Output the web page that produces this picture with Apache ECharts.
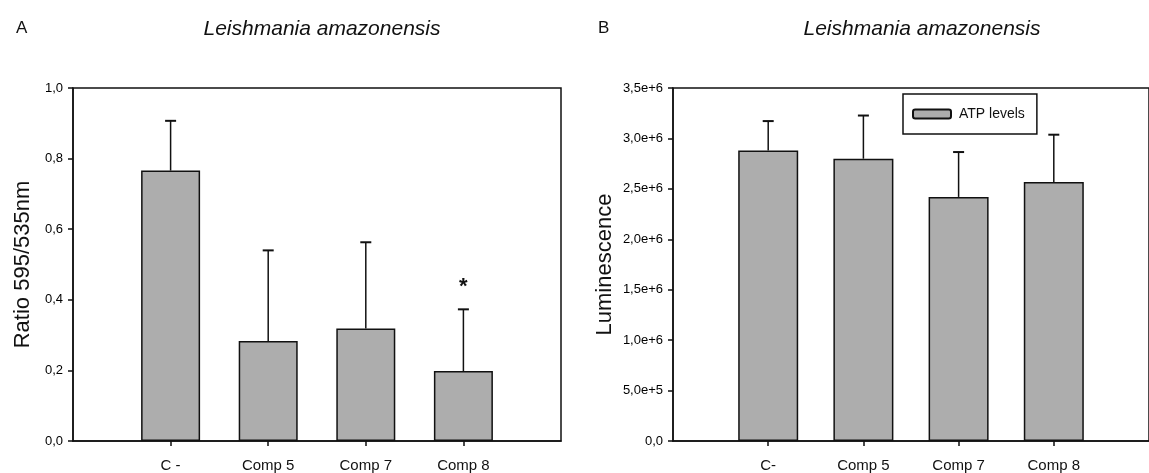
<!DOCTYPE html>
<html>
<head>
<meta charset="utf-8">
<script src="https://cdn.jsdelivr.net/npm/echarts@6/dist/echarts.min.js"></script>
<style>
  html, body { margin: 0; background: #fff; }
  #main { width: 1149px; height: 473px; }
</style>
</head>
<body>
<div id="main"></div>
<script>
// panel A: ratio 595/535nm
var categoriesA = ['C -', 'Comp 5', 'Comp 7', 'Comp 8'];
var ratioMean = [0.766, 0.283, 0.319, 0.198];
var ratioSd = [0.141, 0.257, 0.244, 0.175];
var ratioMarks = ['', '', '', '*'];

// panel B: ATP luminescence
var categoriesB = ['C-', 'Comp 5', 'Comp 7', 'Comp 8'];
var atpMean = [2.881e6, 2.799e6, 2.420e6, 2.569e6];
var atpSd = [0.291e6, 0.428e6, 0.445e6, 0.468e6];

var FONT = 'Liberation Sans';
var INK = '#111';
var positions = [1, 2, 3, 4];

var chart = echarts.init(document.getElementById('main'));

function barData(means) {
  return means.map(function (v, i) { return [i + 1, v]; });
}
function errData(means, sds) {
  return means.map(function (v, i) { return [i + 1, v, v + sds[i]]; });
}
function makeErrorBar(marks) {
  return function (params, api) {
    var x = api.value(0);
    var top = api.coord([x, api.value(1)]);
    var end = api.coord([x, api.value(2)]);
    var children = [
      { type: 'line', shape: { x1: top[0], y1: top[1], x2: end[0], y2: end[1] },
        style: { stroke: INK, lineWidth: 1.5 } },
      { type: 'line', shape: { x1: end[0] - 5.5, y1: end[1], x2: end[0] + 5.5, y2: end[1] },
        style: { stroke: INK, lineWidth: 2 } }
    ];
    var m = marks && marks[params.dataIndex];
    if (m) {
      children.push({ type: 'text', x: end[0], y: end[1] - 22,
        style: { text: m, fill: INK, font: 'bold 22px ' + FONT, align: 'center', verticalAlign: 'middle' } });
    }
    return { type: 'group', children: children };
  };
}

function xAxis(idx, cats) {
  return {
    type: 'value', gridIndex: idx, min: 0, max: 5,
    splitLine: { show: false },
    axisLine: { lineStyle: { color: INK, width: 1.5 } },
    axisTick: { customValues: positions, length: 5, lineStyle: { color: INK, width: 1.5 } },
    axisLabel: {
      customValues: positions, margin: 17, fontSize: 15, color: INK, fontFamily: FONT,
      formatter: function (v) { return cats[v - 1] || ''; }
    }
  };
}

function yAxis(idx, name, gap, max, step, fmt) {
  return {
    type: 'value', gridIndex: idx, min: 0, max: max, interval: step,
    name: name, nameLocation: 'middle', nameGap: gap,
    nameTextStyle: { fontSize: 22, color: INK, fontFamily: FONT },
    splitLine: { show: false },
    axisLine: { show: true, lineStyle: { color: INK, width: 1.5 } },
    axisTick: { show: true, length: 5, lineStyle: { color: INK, width: 1.5 } },
    axisLabel: { margin: 10, fontSize: 13, color: '#000', fontFamily: FONT, formatter: fmt }
  };
}

var option = {
  backgroundColor: '#fff',
  animation: false,
  title: [
    { text: 'A', left: 11, top: 15, textStyle: { fontSize: 17, fontWeight: 'normal', color: INK, fontFamily: FONT } },
    { text: 'B', left: 593, top: 15, textStyle: { fontSize: 17, fontWeight: 'normal', color: INK, fontFamily: FONT } },
    { text: 'Leishmania amazonensis', left: 317, top: 14, textAlign: 'center',
      textStyle: { fontSize: 21, fontStyle: 'italic', fontWeight: 'normal', color: INK, fontFamily: FONT } },
    { text: 'Leishmania amazonensis', left: 917, top: 14, textAlign: 'center',
      textStyle: { fontSize: 21, fontStyle: 'italic', fontWeight: 'normal', color: INK, fontFamily: FONT } }
  ],
  legend: {
    data: ['ATP levels'], left: 903, top: 94, selectedMode: false,
    icon: 'roundRect', itemWidth: 38, itemHeight: 9,
    padding: [13, 12, 13, 9],
    borderColor: INK, borderWidth: 1.5,
    textStyle: { fontSize: 14, color: INK, fontFamily: FONT, padding: [0, 0, 0, 3] }
  },
  grid: [
    { left: 73, top: 88, width: 488, bottom: 32, show: true, borderColor: INK, borderWidth: 1.5 },
    { left: 673, top: 88, width: 488, bottom: 32, show: true, borderColor: INK, borderWidth: 1.5 }
  ],
  xAxis: [xAxis(0, categoriesA), xAxis(1, categoriesB)],
  yAxis: [
    yAxis(0, 'Ratio 595/535nm', 39, 1, 0.2, function (v) {
      return v.toFixed(1).replace('.', ',');
    }),
    yAxis(1, 'Luminescence', 57, 3.5e6, 5e5, function (v) {
      return v === 0 ? '0,0' : v.toExponential(1).replace('.', ',');
    })
  ],
  series: [
    {
      name: 'Ratio', type: 'bar', xAxisIndex: 0, yAxisIndex: 0, barWidth: 59,
      data: barData(ratioMean),
      itemStyle: { color: '#adadad', borderColor: INK, borderWidth: 1.5 }
    },
    {
      type: 'custom', xAxisIndex: 0, yAxisIndex: 0, z: 3,
      renderItem: makeErrorBar(ratioMarks),
      encode: { x: 0, y: [1, 2] },
      data: errData(ratioMean, ratioSd)
    },
    {
      name: 'ATP levels', type: 'bar', xAxisIndex: 1, yAxisIndex: 1, barWidth: 60,
      data: barData(atpMean),
      itemStyle: { color: '#adadad', borderColor: INK, borderWidth: 1.5 }
    },
    {
      type: 'custom', xAxisIndex: 1, yAxisIndex: 1, z: 3,
      renderItem: makeErrorBar(null),
      encode: { x: 0, y: [1, 2] },
      data: errData(atpMean, atpSd)
    }
  ]
};

chart.setOption(option);
</script>
</body>
</html>
